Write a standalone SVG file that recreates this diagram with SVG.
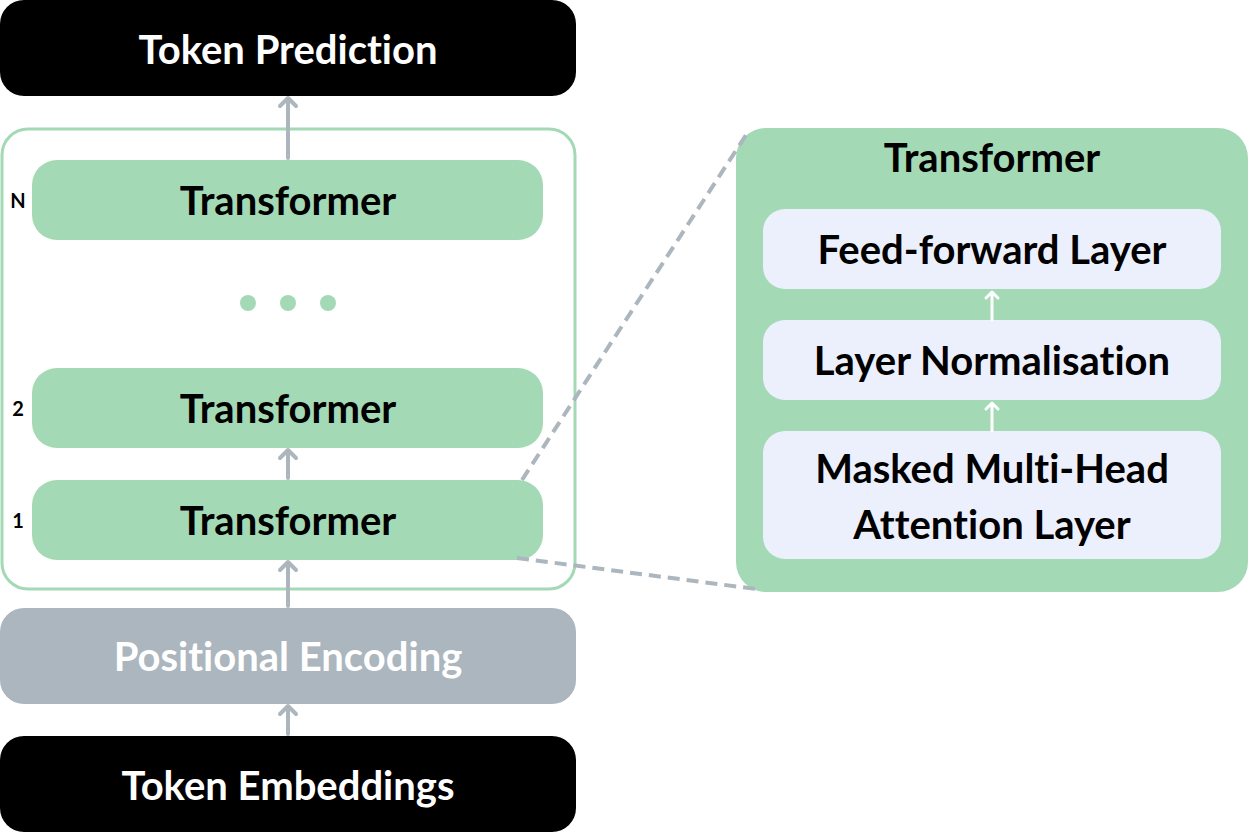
<svg xmlns="http://www.w3.org/2000/svg" width="1248" height="832" viewBox="0 0 1248 832">
<defs>
<style>
.t{font-family:Lato,"Open Sans","Liberation Sans",sans-serif;font-weight:700;text-anchor:middle;font-variant-ligatures:none}
.big{font-size:40px}
.lbl{font-size:20px}
.green{fill:#A3D9B5}
.lav{fill:#ECF0FC}
.conn{stroke:#ABB6BE;stroke-width:4;fill:none;stroke-linecap:round;stroke-linejoin:round}
.dash{stroke:#ABB6BE;stroke-width:4;fill:none;stroke-dasharray:12 7}
.wconn{stroke:#FFFFFF;stroke-width:3;fill:none;stroke-linecap:round;stroke-linejoin:round}
</style>
</defs>
<rect width="1248" height="832" fill="#FFFFFF"/>

<g id="stack-container">
<rect x="2" y="129" width="573" height="460" rx="26" fill="none" stroke="#A3D9B5" stroke-width="3"/>
</g>

<g id="token-prediction">
<rect x="0" y="0" width="576" height="96" rx="24" fill="#000000"/>
<text class="t big" x="288" y="64" fill="#FFFFFF">Token Prediction</text>
</g>

<g id="transformer-n">
<rect class="green" x="32" y="160" width="511" height="80" rx="25"/>
<text class="t big" x="288" y="215" fill="#000000">Transformer</text>
<text class="t lbl" x="18" y="208" fill="#000000">N</text>
</g>

<g id="ellipsis">
<circle class="green" cx="248" cy="303" r="8"/>
<circle class="green" cx="288" cy="303" r="8"/>
<circle class="green" cx="328" cy="303" r="8"/>
</g>

<g id="transformer-2">
<rect class="green" x="32" y="368" width="511" height="80" rx="25"/>
<text class="t big" x="288" y="423" fill="#000000">Transformer</text>
<text class="t lbl" x="18" y="416" fill="#000000">2</text>
</g>

<g id="transformer-1">
<rect class="green" x="32" y="480" width="511" height="80" rx="25"/>
<text class="t big" x="288" y="535" fill="#000000">Transformer</text>
<text class="t lbl" x="18" y="528" fill="#000000">1</text>
</g>

<g id="positional-encoding">
<rect x="0" y="608" width="576" height="96" rx="24" fill="#ABB6BE"/>
<text class="t big" x="288" y="671" fill="#FFFFFF">Positional Encoding</text>
</g>

<g id="token-embeddings">
<rect x="0" y="736" width="576" height="96" rx="24" fill="#000000"/>
<text class="t big" x="288" y="800" fill="#FFFFFF">Token Embeddings</text>
</g>

<g id="transformer-detail">
<rect class="green" x="736" y="128" width="512" height="464" rx="30"/>
<text class="t big" x="992" y="172" fill="#000000">Transformer</text>
</g>

<g id="feed-forward">
<rect class="lav" x="763" y="209" width="458" height="80" rx="22"/>
<text class="t big" x="992" y="264" fill="#000000">Feed-forward Layer</text>
</g>

<g id="layer-norm">
<rect class="lav" x="763" y="320" width="458" height="80" rx="22"/>
<text class="t big" x="992" y="375" fill="#000000">Layer Normalisation</text>
</g>

<g id="masked-attention">
<rect class="lav" x="763" y="431" width="458" height="128" rx="22"/>
<text class="t big" x="992" y="483" fill="#000000">Masked Multi-Head</text>
<text class="t big" x="992" y="539" fill="#000000">Attention Layer</text>
</g>

<g id="connectors">
<path class="conn" d="M288 734 V706 M280 714 L288 706 L296 714"/>
<path class="conn" d="M288 606 V562 M280 570 L288 562 L296 570"/>
<path class="conn" d="M288 478 V450 M280 458 L288 450 L296 458"/>
<path class="conn" d="M288 158 V98 M280 106 L288 98 L296 106"/>
<path class="wconn" d="M992 320 V292 M986 298 L992 292 L998 298"/>
<path class="wconn" d="M992 431 V403 M986 409 L992 403 L998 409"/>
<path class="dash" d="M522 480 L746 135"/>
<path class="dash" d="M517 558 L756 589"/>
</g>
</svg>
